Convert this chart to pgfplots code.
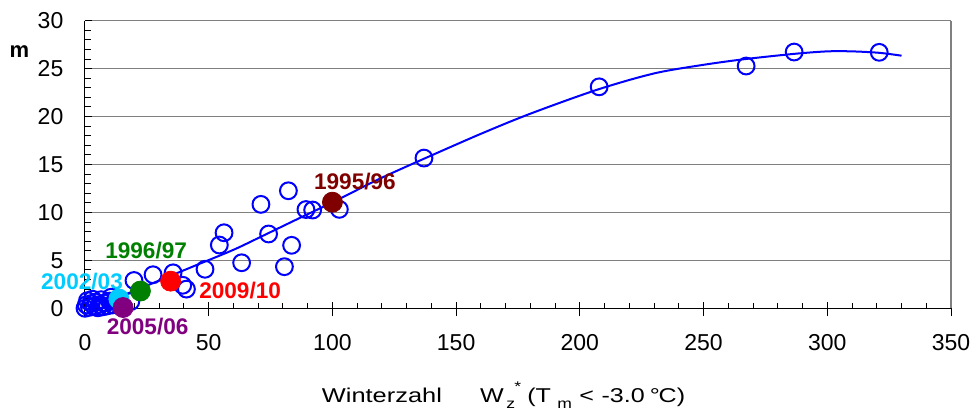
\documentclass[border=0pt]{standalone}
\usepackage{fontspec}
\setmainfont{Liberation Sans}
\usepackage{graphicx}
\usepackage{pgfplots}
\pgfplotsset{compat=1.18}
\definecolor{mblue}{RGB}{0,0,255}
\definecolor{dred}{RGB}{128,0,0}
\definecolor{dgreen}{RGB}{0,128,0}
\definecolor{lcyan}{RGB}{0,204,255}
\definecolor{purp}{RGB}{128,0,128}
\definecolor{gridgray}{RGB}{128,128,128}
\begin{document}
\begin{tikzpicture}
\path[use as bounding box] (0,0) rectangle (487.5pt,205pt);
\begin{axis}[
  at={(42.5pt,50.85pt)}, anchor=south west,
  scale only axis, width=433pt, height=143.8pt,
  xmin=0, xmax=350, ymin=0, ymax=30,
  clip=false,
  axis x line*=bottom, axis y line*=left,
  axis line style={black, line width=0.5pt},
  xtick={0,50,...,350}, ytick={0,5,...,30},
  minor x tick num=4, minor y tick num=4,
  tick align=inside,
  major tick length=3.3pt, minor tick length=2.8pt,
  tick style={black, line width=0.5pt},
  extra x ticks={0,50,...,350}, extra x tick labels={},
  extra x tick style={tick align=outside, major tick length=3.7pt},
  ymajorgrids, grid style={draw=gridgray, line width=0.75pt},
  /pgf/number format/assume math mode=true,
  xticklabel style={font=\fontsize{11.5}{13}\selectfont, yshift=-9.5pt},
  yticklabel style={font=\fontsize{11.5}{13}\selectfont, xshift=-7.3pt},
]
\draw[gridgray, line width=0.75pt] (rel axis cs:1,0) -- (rel axis cs:1,1);
\addplot[mblue, line width=1pt, smooth, no marks] coordinates {
(15,1.3) (30,2.9) (44.5,4.45) (60,6.1) (71,7.45) (85,9.2) (100,11.05)
(119,13.5) (137,15.6) (160,18.2) (180,20.3) (207,22.8) (230,24.5)
(250,25.4) (267,26.0) (287,26.55) (300,26.8) (310,26.8) (321,26.65) (330,26.35)};
\addplot[only marks, mark=o, mark size=4.2pt, mark options={mblue, line width=1pt}] coordinates {
(0,0) (0.5,0.35) (1,0.8) (1.8,0.1) (2.5,0.5) (3,0.95) (3.8,0.2) (4.5,0.65)
(5.2,0.05) (6,0.4) (6.5,0.9) (7.2,0.15) (8,0.55) (9,0.25) (10,0.75) (10.5,1.15)
(11.2,0.35) (12,0.7) (18.5,0.7)
(19.8,2.9) (27.5,3.5) (35.6,3.7) (39.5,2.4) (41,2.0)
(48.5,4.07) (54.3,6.6) (56.2,7.88) (63.3,4.75) (71.1,10.84) (74.2,7.75)
(80.6,4.34) (82.2,12.26) (83.5,6.57) (89.3,10.3) (92,10.25) (102.8,10.32)
(137,15.67) (207.8,23.1) (267.2,25.27) (286.6,26.73) (321,26.7)};
\addplot[only marks, mark=*, mark size=5pt, lcyan] coordinates {(13.7,0.97)};
\addplot[only marks, mark=*, mark size=5pt, purp] coordinates {(15.4,0.08)};
\addplot[only marks, mark=*, mark size=5pt, dgreen] coordinates {(22.4,1.8)};
\addplot[only marks, mark=*, mark size=5pt, red] coordinates {(34.6,2.83)};
\addplot[only marks, mark=*, mark size=5pt, dred] coordinates {(100,11.07)};
\node[dred, font=\fontsize{11.3}{13}\selectfont\bfseries] at (axis cs:109.1,13.17) {1995/96};
\node[dgreen, font=\fontsize{11.3}{13}\selectfont\bfseries] at (axis cs:24.7,6.0) {1996/97};
\node[lcyan, font=\fontsize{11.3}{13}\selectfont\bfseries] at (axis cs:-1.2,2.8) {2002/03};
\node[red, font=\fontsize{11.3}{13}\selectfont\bfseries] at (axis cs:62.7,1.9) {2009/10};
\node[purp, font=\fontsize{11.3}{13}\selectfont\bfseries] at (axis cs:25.3,-1.95) {2005/06};
\node[font=\fontsize{11}{13}\selectfont\bfseries] at (axis cs:-26.5,26.78) {m};
\node[anchor=base, font=\fontsize{10}{12}\selectfont, inner sep=0pt] at (axis cs:120,-9.87) {\resizebox{60pt}{\height}{Winterzahl}};
\node[anchor=base, font=\fontsize{10}{12}\selectfont, inner sep=0pt] at (axis cs:201.1,-9.87) {\resizebox{102.5pt}{\height}{W\kern1pt\raisebox{-0.5ex}{\fontsize{7}{8}\selectfont z}\kern-0.3pt\raisebox{1.1ex}{\fontsize{7}{8}\selectfont *}\kern2.5pt(T\kern2.5pt\raisebox{-0.5ex}{\fontsize{7}{8}\selectfont m}\kern3pt<\kern3pt-3.0\kern2pt°\kern-0.5pt C)}};
\end{axis}
\end{tikzpicture}
\end{document}
